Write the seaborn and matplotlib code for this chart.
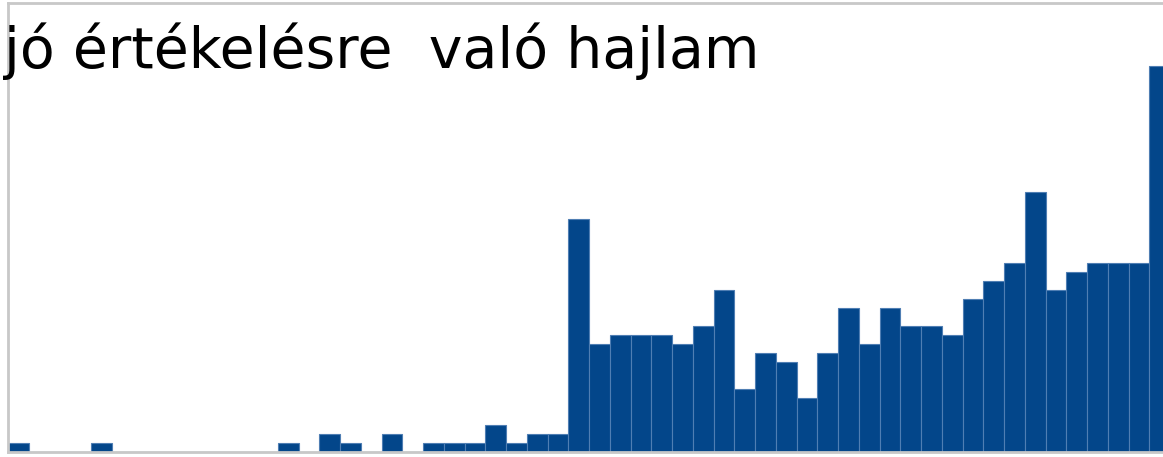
import numpy as np
import pandas as pd
import matplotlib
matplotlib.use("Agg")
import matplotlib.pyplot as plt
import seaborn as sns

# bin index (0..55) and count per bin
bins = list(range(56))
counts = [1, 0, 0, 0, 1, 0, 0, 0, 0, 0,
          0, 0, 0, 1, 0, 2, 1, 0, 2, 0,
          1, 1, 1, 3, 1, 2, 2, 26, 12, 13,
          13, 13, 12, 14, 18, 7, 11, 10, 6, 11,
          16, 12, 16, 14, 14, 13, 17, 19, 21, 29,
          18, 20, 21, 21, 21, 43]
title = "jó értékelésre  való hajlam"

BAR = "#03468a"
EDGE = "#4f7eb3"
FRAME = "#c8c8c8"

sns.set_style("white")
plt.rcParams["font.family"] = ["DejaVu Sans"]

df = pd.DataFrame({"bin": bins, "count": counts})

W, H = 1163, 457
fig = plt.figure(figsize=(W / 100, H / 100), dpi=100)
# axes: left edge at 8px, top at 3px, baseline at 452px; last bar runs off the right edge
ax = fig.add_axes([8 / W, (H - 452) / H, 1162 / W, 449 / H])

sns.barplot(data=df, x="bin", y="count", color=BAR, saturation=1, width=1.0,
            edgecolor=EDGE, linewidth=0.8, ax=ax)
ax.set_xlim(-0.5, 55.5)
ax.set_ylim(0, 50)
ax.set_xticks([])
ax.set_yticks([])
ax.set_xlabel("")
ax.set_ylabel("")
for s in ["left", "top", "bottom", "right"]:
    ax.spines[s].set_color(FRAME)
    ax.spines[s].set_linewidth(2)

fig.text(4 / W, (H - 68) / H, title, fontsize=41, color="black",
         ha="left", va="baseline")

fig.savefig("out.png", dpi=100, facecolor="white")
